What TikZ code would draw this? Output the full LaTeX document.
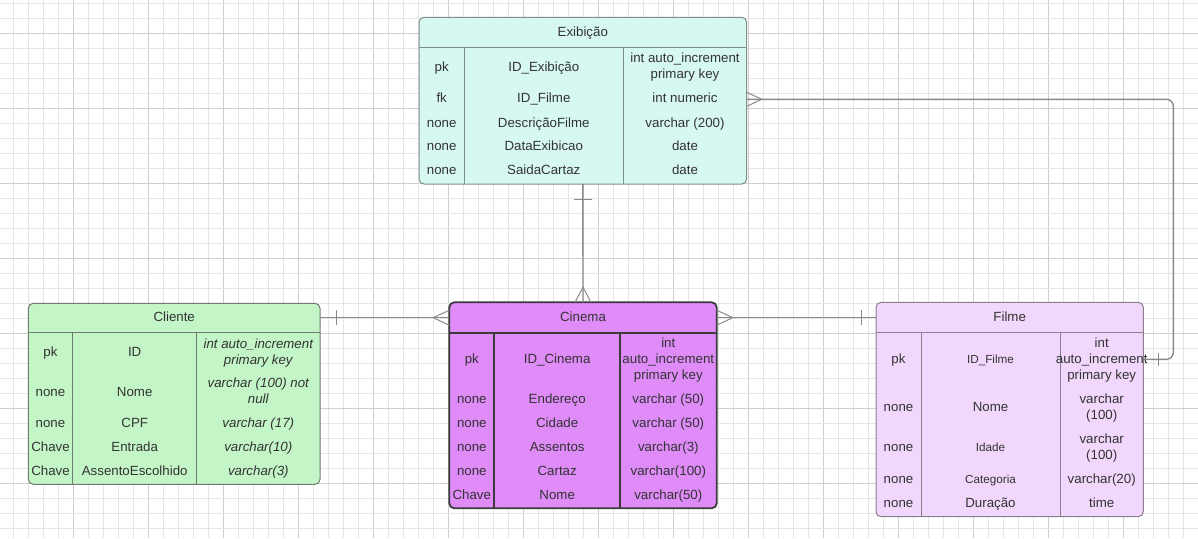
\documentclass[tikz,border=0pt]{standalone}
\usepackage{fontspec}
\setmainfont{Liberation Sans}
\usetikzlibrary{calc}

\definecolor{gridminor}{HTML}{E6E6E6}
\definecolor{gridmajor}{HTML}{CFCFCF}
\definecolor{txtcol}{HTML}{333333}
\definecolor{linkcol}{HTML}{8A8A8A}
\definecolor{exibfill}{HTML}{D6F8F1}
\definecolor{exibdraw}{HTML}{7C8F8B}
\definecolor{clifill}{HTML}{C3F5C6}
\definecolor{clidraw}{HTML}{6E7B6F}
\definecolor{cinefill}{HTML}{DF8BF8}
\definecolor{cinedraw}{HTML}{3B3B3B}
\definecolor{filmefill}{HTML}{F1D7FB}
\definecolor{filmedraw}{HTML}{8A7F8E}

\tikzset{
  tablebox/.style={rectangle, rounded corners=5pt, inner sep=0pt, outer sep=0pt, line width=1pt},
  rule/.style={line width=1pt},
  % text nodes are placed by the visual middle of their last line
  txt/.style={inner sep=0pt, align=center, text=txtcol, anchor=base, yshift=-4.4pt,
    font=\fontsize{13.3}{16}\selectfont},
  txtsmall/.style={txt, yshift=0.5pt, font=\fontsize{11.7}{14}\selectfont},
  txtit/.style={txt, font=\fontsize{13.3}{16}\selectfont\itshape},
  link/.style={draw=linkcol, line width=1.4pt},
  ermark/.style={draw=linkcol, line width=1pt},
}

\begin{document}
\begin{tikzpicture}[x=1pt, y=-1pt]
\useasboundingbox (0,0) rectangle (1198,538);

% background grid: minor every 15px, major every 75px
\foreach \i in {0,...,79} {
  \pgfmathsetmacro{\gx}{13.3+15*\i}
  \pgfmathtruncatemacro{\gm}{mod(\i,5)}
  \ifnum\gm=4
    \draw[gridmajor, line width=0.9pt] (\gx,0) -- (\gx,538);
  \else
    \draw[gridminor, line width=0.9pt] (\gx,0) -- (\gx,538);
  \fi
}
\foreach \j in {0,...,35} {
  \pgfmathsetmacro{\gy}{3.3+15*\j}
  \pgfmathtruncatemacro{\gm}{mod(\j,5)}
  \ifnum\gm=2
    \draw[gridmajor, line width=0.9pt] (0,\gy) -- (1198,\gy);
  \else
    \draw[gridminor, line width=0.9pt] (0,\gy) -- (1198,\gy);
  \fi
}

% ---------------- Exibição ----------------
\node[tablebox, fill=exibfill, draw=exibdraw, minimum width=327.7pt, minimum height=166.7pt] (exib) at (582.85,100.65) {};
\draw[rule, exibdraw] ($(exib.north west)+(0,30)$) -- ($(exib.north east)+(0,30)$);
\draw[rule, exibdraw] ($(exib.north west)+(45.3,30)$) -- ($(exib.south west)+(45.3,0)$);
\draw[rule, exibdraw] ($(exib.north west)+(204.3,30)$) -- ($(exib.south west)+(204.3,0)$);
\node[txt] (extitle) at (582.8,31.7) {Exibição};
\node[txt] (expk)  at (441.7,66.7)  {pk};
\node[txt] (exfk)  at (441.7,98.3)  {fk};
\node[txt] (exn1)  at (441.7,122.7) {none};
\node[txt] (exn2)  at (441.7,146)   {none};
\node[txt] (exn3)  at (441.7,170)   {none};
\node[txt] (exid)  at (543.8,66.7)  {ID\_Exibição};
\node[txt] (exidf) at (543.8,98.3)  {ID\_Filme};
\node[txt] (exdes) at (543.8,122.7) {DescriçãoFilme};
\node[txt] (exdat) at (543.8,146)   {DataExibicao};
\node[txt] (exsai) at (543.8,170)   {SaidaCartaz};
\node[txt] (ext1)  at (685,74.5)    {int auto\_increment\\primary key};
\node[txt] (ext2)  at (685,98.3)    {int numeric};
\node[txt] (ext3)  at (685,122.7)   {varchar (200)};
\node[txt] (ext4)  at (685,146)     {date};
\node[txt] (ext5)  at (685,170)     {date};

% ---------------- Cliente ----------------
\node[tablebox, fill=clifill, draw=clidraw, minimum width=291.7pt, minimum height=181pt] (cli) at (174.15,393.8) {};
\draw[rule, clidraw] ($(cli.north west)+(0,29.4)$) -- ($(cli.north east)+(0,29.4)$);
\draw[rule, clidraw] ($(cli.north west)+(44.4,29.4)$) -- ($(cli.south west)+(44.4,0)$);
\draw[rule, clidraw] ($(cli.north west)+(168.4,29.4)$) -- ($(cli.south west)+(168.4,0)$);
\node[txt] (clititle) at (174.2,316.7) {Cliente};
\node[txt] (clk1) at (50.5,351.7) {pk};
\node[txt] (clk2) at (50.5,391.7) {none};
\node[txt] (clk3) at (50.5,423.3) {none};
\node[txt] (clk4) at (50.5,447.3) {Chave};
\node[txt] (clk5) at (50.5,471)   {Chave};
\node[txt] (clf1) at (134.7,351.7) {ID};
\node[txt] (clf2) at (134.7,391.7) {Nome};
\node[txt] (clf3) at (134.7,423.3) {CPF};
\node[txt] (clf4) at (134.7,447.3) {Entrada};
\node[txt] (clf5) at (134.7,471)   {AssentoEscolhido};
\node[txtit] (clt1) at (258.3,359.7) {int auto\_increment\\primary key};
\node[txtit] (clt2) at (258.3,399.5) {varchar (100) not\\null};
\node[txtit] (clt3) at (258.3,423.3) {varchar (17)};
\node[txtit] (clt4) at (258.3,447.3) {varchar(10)};
\node[txtit] (clt5) at (258.3,471)   {varchar(3)};

% ---------------- Cinema ----------------
\node[tablebox, fill=cinefill, draw=cinedraw, line width=1.8pt, minimum width=267.4pt, minimum height=206pt] (cine) at (583,405.3) {};
\draw[rule, cinedraw, line width=1.8pt] ($(cine.north west)+(0,30.4)$) -- ($(cine.north east)+(0,30.4)$);
\draw[rule, cinedraw, line width=1.8pt] ($(cine.north west)+(45,30.4)$) -- ($(cine.south west)+(45,0)$);
\draw[rule, cinedraw, line width=1.8pt] ($(cine.north west)+(170.7,30.4)$) -- ($(cine.south west)+(170.7,0)$);
\node[txt] (citle) at (583,316.7) {Cinema};
\node[txt] (cik1) at (471.8,359.3) {pk};
\node[txt] (cik2) at (471.8,399.3) {none};
\node[txt] (cik3) at (471.8,423.3) {none};
\node[txt] (cik4) at (471.8,447.3) {none};
\node[txt] (cik5) at (471.8,471)   {none};
\node[txt] (cik6) at (471.8,495)   {Chave};
\node[txt] (cif1) at (557.2,359.3) {ID\_Cinema};
\node[txt] (cif2) at (557.2,399.3) {Endereço};
\node[txt] (cif3) at (557.2,423.3) {Cidade};
\node[txt] (cif4) at (557.2,447.3) {Assentos};
\node[txt] (cif5) at (557.2,471)   {Cartaz};
\node[txt] (cif6) at (557.2,495)   {Nome};
\node[txt] (cit1) at (668.3,375.5) {int\\auto\_increment\\primary key};
\node[txt] (cit2) at (668.3,399.3) {varchar (50)};
\node[txt] (cit3) at (668.3,423.3) {varchar (50)};
\node[txt] (cit4) at (668.3,447.3) {varchar(3)};
\node[txt] (cit5) at (668.3,471)   {varchar(100)};
\node[txt] (cit6) at (668.3,495)   {varchar(50)};

% ---------------- Filme ----------------
\node[tablebox, fill=filmefill, draw=filmedraw, minimum width=267.3pt, minimum height=214.4pt] (filme) at (1009.65,409.5) {};
\draw[rule, filmedraw] ($(filme.north west)+(0,30.4)$) -- ($(filme.north east)+(0,30.4)$);
\draw[rule, filmedraw] ($(filme.north west)+(45,30.4)$) -- ($(filme.south west)+(45,0)$);
\draw[rule, filmedraw] ($(filme.north west)+(184,30.4)$) -- ($(filme.south west)+(184,0)$);
\node[txt] (fmtitle) at (1009.7,316.7) {Filme};
\node[txt] (fmpk) at (898.5,359.3) {pk};
\node[txt] (fmk2) at (898.5,407.3) {none};
\node[txt] (fmk3) at (898.5,447.3) {none};
\node[txt] (fmk4) at (898.5,479.3) {none};
\node[txt] (fmk5) at (898.5,503.3) {none};
\node[txtsmall] (fmf1) at (990.5,359.3) {ID\_Filme};
\node[txt]      (fmf2) at (990.5,407.3) {Nome};
\node[txtsmall] (fmf3) at (990.5,447.3) {Idade};
\node[txtsmall] (fmf4) at (990.5,479.3) {Categoria};
\node[txt]      (fmf5) at (990.5,503.3) {Duração};
\node[txt] (fmt1) at (1101.7,375.5) {int\\auto\_increment\\primary key};
\node[txt] (fmt2) at (1101.7,415.3) {varchar\\(100)};
\node[txt] (fmt3) at (1101.7,455.3) {varchar\\(100)};
\node[txt] (fmt4) at (1101.7,479.3) {varchar(20)};
\node[txt] (fmt5) at (1101.7,503.3) {time};

% ---------------- relationships ----------------
% Exibição (one) -- Cinema (many)
\draw[link] (exib.south) -- (cine.north);
\draw[ermark] ($(exib.south)+(-9,15)$) -- ++(18,0);
\draw[ermark] ($(cine.north)+(-8,0)$) -- ++(8,-15) -- ++(8,15);

% Cliente (one) -- Cinema (many)
\coordinate (clirow) at (0,317.7);
\draw[link] (cli.east |- clirow) -- (cine.west |- clirow);
\draw[ermark] ($(cli.east |- clirow)+(16,-7.5)$) -- ++(0,15);
\draw[ermark] ($(cine.west |- clirow)+(0,-7.5)$) -- ++(-16,7.5) -- ++(16,7.5);

% Cinema (many) -- Filme (one)
\draw[link] (cine.east |- clirow) -- (filme.west |- clirow);
\draw[ermark] ($(cine.east |- clirow)+(0,-7.5)$) -- ++(16,7.5) -- ++(-16,7.5);
\draw[ermark] ($(filme.west |- clirow)+(-15,-7.5)$) -- ++(0,15);

% Exibição (many) -- Filme (one)
\coordinate (bendtop) at (1173.3,99.3);
\coordinate (fmrow) at (0,359.3);
\draw[link, rounded corners=7pt] (exib.east |- bendtop) -- (bendtop) -- (bendtop |- fmrow) -- (filme.east |- fmrow);
\draw[ermark] ($(exib.east |- bendtop)+(0,-7)$) -- ++(15,7) -- ++(-15,7);
\draw[ermark] ($(filme.east |- fmrow)+(15,-6.5)$) -- ++(0,13);
\end{tikzpicture}
\end{document}
